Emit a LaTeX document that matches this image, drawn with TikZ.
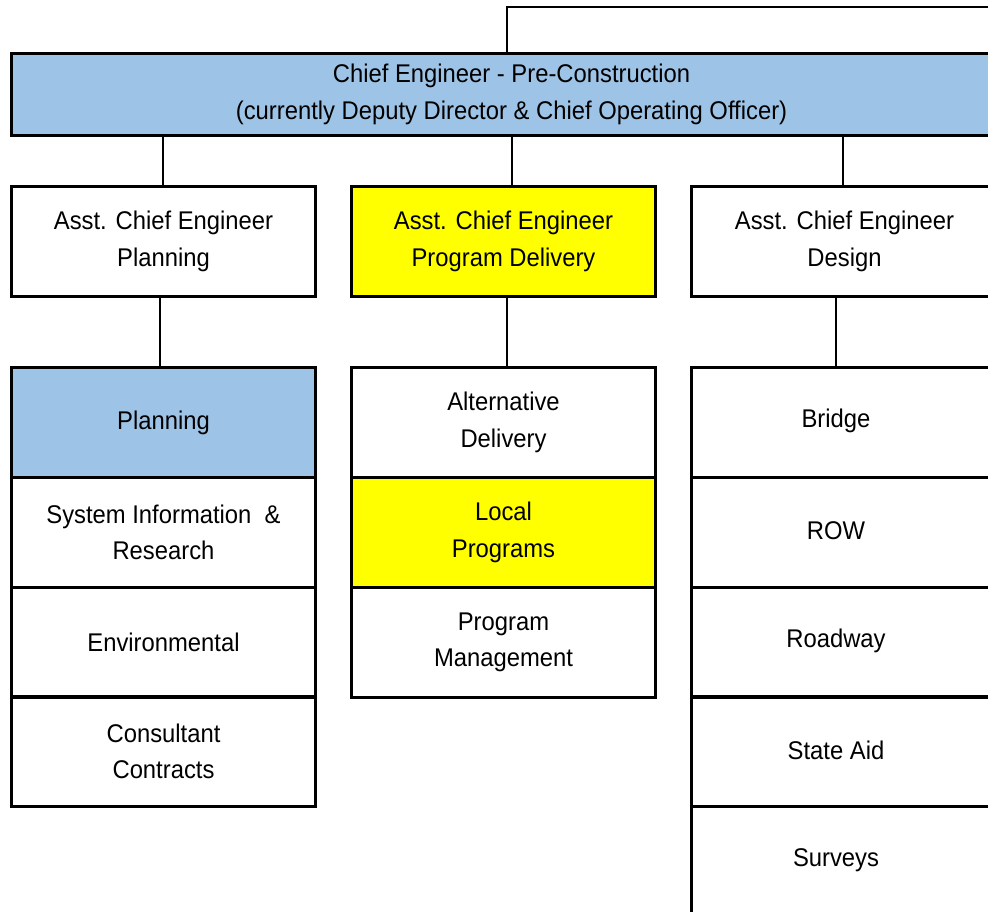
\documentclass[tikz,border=0pt]{standalone}
\usepackage{fontspec}
\setmainfont{Liberation Sans}[FakeStretch=0.93]
\definecolor{hblue}{RGB}{157,195,230}
\definecolor{hyellow}{RGB}{255,255,0}
\begin{document}
\begin{tikzpicture}[x=0.75pt,y=-0.75pt,
  box/.style={draw, line width=2.25pt, inner sep=0pt, anchor=north west, align=center,
    font=\fontsize{19.2pt}{27.5pt}\selectfont},
  colw/.style={minimum width=304*0.75pt, minimum height=110*0.75pt},
  wide/.style={minimum width=310*0.75pt, minimum height=110*0.75pt},
  txt/.style={align=center, inner sep=0pt, font=\fontsize{19.2pt}{27.5pt}\selectfont},
  conn/.style={line width=1.5pt}]
\useasboundingbox (0,0) rectangle (988,911);
\clip (0,0) rectangle (988,911);
\fill[white] (0,0) rectangle (988,911);

% chief
\node[box, fill=hblue, minimum width=1000*0.75pt, minimum height=82*0.75pt] (chief) at (10,52)
  {Chief Engineer - Pre-Construction\\(currently Deputy Director \& Chief Operating Officer)};

% assistants
\node[box, colw] (aPlan) at (10,185) {Asst. Chief Engineer\\Planning};
\node[box, colw, fill=hyellow] (aProg) at (350,185) {Asst. Chief Engineer\\Program Delivery};
\node[box, minimum width=306*0.75pt, minimum height=110*0.75pt] (aDes) at (690,185) {Asst. Chief Engineer\\Design};

% left column
\node[box, colw, fill=hblue] (planning) at (10,366) {Planning};
\node[box, colw] (sysinfo) at (10,476) {System Information~ \&\\Research};
\node[box, colw] (env) at (10,586) {Environmental};
\node[box, colw] (cons) at (10,695) {Consultant\\Contracts};

% middle column
\node[box, colw] (alt) at (350,366) {Alternative\\Delivery};
\node[box, colw, fill=hyellow] (local) at (350,476) {Local\\Programs};
\node[box, colw] (pm) at (350,586) {Program\\Management};

% right column
\node[box, wide] (bridge) at (690,366) {};
\node[box, wide] (row) at (690,476) {};
\node[box, wide] (road) at (690,586) {};
\node[box, wide] (aid) at (690,695) {};
\node[box, wide] (surv) at (690,805) {};
\node[txt] (bridgeT) at (836,421) {Bridge};
\node[txt] (rowT) at (836,531) {ROW};
\node[txt] (roadT) at (836,641) {Roadway};
\node[txt] (aidT) at (836,750) {State Aid};
\node[txt] (survT) at (836,860) {Surveys};

% connectors
\coordinate (x1) at (163,0);
\coordinate (x2) at (512,0);
\coordinate (x3) at (843,0);
\coordinate (x4) at (160,0);
\coordinate (x5) at (507,0);
\coordinate (x6) at (836,0);
\coordinate (topend) at (1000,7);

\draw[conn] (chief.north -| x5) |- (topend);
\draw[conn] (chief.south -| x1) -- (aPlan.north -| x1);
\draw[conn] (chief.south -| x2) -- (aProg.north -| x2);
\draw[conn] (chief.south -| x3) -- (aDes.north -| x3);
\draw[conn] (aPlan.south -| x4) -- (planning.north -| x4);
\draw[conn] (aProg.south -| x5) -- (alt.north -| x5);
\draw[conn] (aDes.south -| x6) -- (bridge.north -| x6);
\end{tikzpicture}
\end{document}
